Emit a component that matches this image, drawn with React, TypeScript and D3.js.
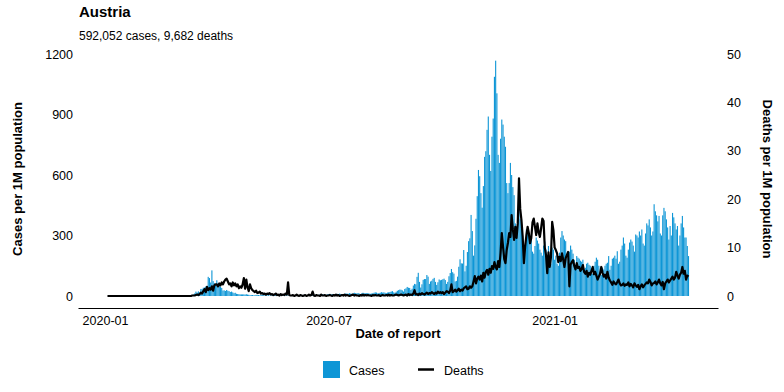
import * as d3 from 'd3';
import React, { useEffect, useRef } from 'react';

// daily cases per 1M population, one array per month (Jan 2020 starts on the 3rd)
const casesJan20 = [0, 0, 0, 0, 0, 0, 0, 0, 0, 0, 0, 0, 0, 0, 0, 0, 0, 0, 0, 0, 0, 0, 0, 0, 0, 0, 0, 0, 0];
const casesFeb20 = [0, 0, 0, 0, 0, 0, 0, 0, 0, 0, 0, 0, 0, 0, 0, 0, 0, 0, 0, 0, 0, 0, 0, 0, 0.2, 0.1, 0.2, 0.3, 0.1];
const casesMar20 = [0.2, 0.3, 0.4, 0.4, 0.7, 0.7, 1.3, 1.6, 2.8, 2.8, 3, 5.7, 7.1, 12.7, 22, 17, 23, 17, 35, 35, 41, 42, 47, 48, 95, 89, 67, 127, 74, 64, 57];
const casesApr20 = [78, 62, 55, 46, 40, 27, 28, 25, 30, 26, 24, 20, 22, 18, 14, 16, 11, 10, 9, 8, 8, 8, 8, 7, 9, 7, 6, 4, 5, 5];
const casesMay20 = [3, 4, 6, 4, 5, 3, 6, 6, 3, 3, 6, 3, 4, 2, 3, 4, 3, 3, 5, 3, 2, 3, 3, 4, 2, 3, 3, 3, 2, 3, 3];
const casesJun20 = [3, 3, 2, 4, 5, 3, 2, 3, 4, 5, 6, 5, 4, 4, 3, 3, 4, 4, 6, 6, 5, 5, 6, 7, 6, 8, 7, 5, 6, 8];
const casesJul20 = [9, 11, 7, 10, 8, 7, 9, 11, 10, 12, 10, 9, 8, 10, 13, 12, 11, 14, 12, 11, 13, 16, 14, 13, 15, 12, 10, 14, 16, 14, 13];
const casesAug20 = [14, 15, 12, 11, 12, 14, 16, 18, 17, 13, 15, 16, 19, 17, 18, 16, 14, 17, 19, 20, 22, 24, 18, 16, 21, 26, 29, 32, 31, 28, 22];
const casesSep20 = [35, 38, 45, 41, 40, 30, 36, 52, 60, 58, 95, 115, 70, 42, 58, 80, 84, 84, 104, 96, 60, 72, 76, 85, 90, 70, 55, 68, 82, 78];
const casesOct20 = [80, 83, 86, 79, 60, 70, 98, 114, 134, 118, 111, 72, 75, 96, 145, 182, 162, 161, 228, 122, 150, 218, 272, 286, 402, 322, 200, 251, 383, 495, 625];
const casesNov20 = [594, 510, 438, 545, 690, 718, 824, 890, 700, 620, 790, 880, 1087, 1167, 1005, 700, 660, 780, 875, 850, 790, 740, 560, 510, 560, 660, 600, 540, 500, 360];
const casesDec20 = [330, 430, 420, 380, 340, 300, 248, 240, 330, 320, 310, 297, 280, 220, 210, 248, 290, 275, 260, 230, 215, 200, 250, 270, 230, 150, 248, 190, 160, 240, 230];
const casesJan21 = [180, 200, 160, 150, 215, 290, 322, 300, 280, 272, 190, 170, 220, 250, 230, 210, 180, 150, 198, 190, 185, 175, 170, 180, 130, 140, 160, 165, 155, 150, 120];
const casesFeb21 = [110, 150, 170, 190, 180, 150, 120, 105, 140, 132, 150, 160, 165, 198, 130, 150, 185, 190, 200, 185, 222, 160, 170, 230, 250, 290, 260, 200];
const casesMar21 = [190, 230, 265, 280, 270, 250, 220, 305, 300, 290, 320, 300, 330, 260, 250, 310, 360, 350, 380, 340, 300, 320, 455, 420, 400, 370, 397, 310, 300, 400, 437];
const casesApr21 = [420, 380, 340, 280, 347, 300, 412, 390, 360, 330, 347, 250, 300, 360, 397, 340, 290, 290, 248, 198];

// daily deaths per 1M population
const deathsJan20 = [0, 0, 0, 0, 0, 0, 0, 0, 0, 0, 0, 0, 0, 0, 0, 0, 0, 0, 0, 0, 0, 0, 0, 0, 0, 0, 0, 0, 0];
const deathsFeb20 = [0, 0, 0, 0, 0, 0, 0, 0, 0, 0, 0, 0, 0, 0, 0, 0, 0, 0, 0, 0, 0, 0, 0, 0, 0, 0, 0, 0, 0];
const deathsMar20 = [0, 0, 0, 0, 0, 0, 0, 0, 0, 0, 0, 0.1, 0.1, 0.1, 0.2, 0.3, 0.2, 0.4, 0.7, 0.5, 1.0, 1.4, 0.8, 1.9, 1.2, 1.6, 1.3, 2.0, 1.1, 2.2, 2.4];
const deathsApr20 = [2.4, 2.0, 2.6, 2.2, 2.8, 2.4, 3.0, 3.4, 3.6, 3.0, 2.4, 2.6, 2.0, 2.8, 2.2, 2.6, 2.0, 2.4, 1.6, 2.0, 1.7, 2.4, 3.7, 1.5, 3.4, 1.8, 1.0, 2.4, 1.6, 1.2];
const deathsMay20 = [1.0, 0.8, 1.1, 0.6, 0.7, 0.9, 0.5, 0.6, 0.4, 0.5, 0.3, 0.5, 0.4, 0.6, 0.3, 0.4, 0.2, 0.3, 0.5, 0.2, 0.3, 0.1, 0.4, 0.2, 0.3, 0.2, 0.5, 0.3, 2.8, 0.2, 0.1];
const deathsJun20 = [0.1, 0.2, 0, 0.1, 0.3, 0.1, 0, 0.2, 0.1, 0, 0.1, 0.2, 0, 0.1, 0.3, 0.1, 0.2, 0.9, 0.1, 0, 0.2, 0.1, 0.1, 0, 0.3, 0.1, 0.1, 0.2, 0, 0.1];
const deathsJul20 = [0.1, 0.2, 0.1, 0, 0.2, 0.1, 0.3, 0.1, 0.2, 0, 0.1, 0.2, 0.1, 0.3, 0.1, 0.2, 0.1, 0, 0.1, 0.2, 0.3, 0.1, 0.2, 0.1, 0.1, 0, 0.2, 0.1, 0.3, 0.1, 0.2];
const deathsAug20 = [0.1, 0.2, 0.1, 0.1, 0, 0.2, 0.1, 0.2, 0.1, 0.1, 0.2, 0, 0.1, 0.2, 0.1, 0.1, 0.2, 0.1, 0.3, 0.1, 0.2, 0.1, 0.1, 0.2, 0.3, 0.2, 0.1, 0.2, 0.3, 0.2, 0.1];
const deathsSep20 = [0.2, 0.3, 0.1, 0.4, 0.2, 0.3, 0.2, 0.5, 1.2, 0.3, 0.4, 0.2, 0.5, 0.3, 0.6, 0.4, 0.3, 0.5, 0.7, 0.4, 0.6, 0.5, 0.8, 0.6, 0.4, 0.7, 0.5, 0.9, 0.6, 0.8];
const deathsOct20 = [0.6, 0.8, 0.4, 0.7, 1.0, 0.9, 0.6, 1.1, 2.4, 0.8, 1.0, 1.3, 0.9, 1.2, 1.5, 1.0, 1.3, 1.1, 1.6, 1.8, 2.0, 1.4, 1.5, 2.0, 1.7, 2.0, 3.0, 4.1, 2.6, 3.6, 4.0];
const deathsNov20 = [3.4, 4.2, 3.0, 4.8, 3.8, 5.0, 5.4, 4.4, 5.6, 4.8, 6.2, 5.6, 7.0, 6.0, 5.5, 7.2, 6.0, 8.9, 13.0, 10.2, 7.6, 6.8, 9.5, 11.0, 13.0, 12.2, 16.7, 13.8, 11.6, 14.3];
const deathsDec20 = [12.0, 15.0, 24.3, 18.0, 15.7, 12.2, 6.8, 10.2, 12.5, 14.3, 13.0, 10.9, 12.0, 15.2, 16.0, 14.3, 12.6, 15.0, 13.2, 12.2, 14.0, 16.0, 15.5, 10.0, 8.5, 4.7, 9.0, 6.0, 8.0, 15.3, 13.6];
const deathsJan21 = [10.0, 9.5, 8.8, 7.0, 8.1, 7.2, 8.8, 7.5, 6.0, 7.8, 8.5, 9.1, 2.0, 6.5, 7.0, 7.4, 6.2, 5.5, 6.8, 5.8, 6.0, 5.2, 5.6, 6.4, 5.0, 4.6, 5.2, 4.0, 4.8, 4.4, 5.2];
const deathsFeb21 = [6.0, 4.5, 5.0, 4.2, 3.4, 4.0, 4.6, 6.0, 4.8, 4.0, 4.4, 3.6, 5.0, 3.8, 3.2, 2.8, 2.3, 3.0, 2.6, 2.4, 2.9, 3.4, 2.6, 2.2, 2.3, 2.6, 2.1, 2.4];
const deathsMar21 = [2.3, 2.8, 2.0, 2.5, 2.2, 1.8, 2.6, 2.2, 1.9, 2.3, 1.4, 2.0, 2.4, 1.8, 2.2, 2.5, 2.8, 2.6, 3.4, 2.9, 2.2, 2.6, 2.7, 3.0, 2.4, 2.8, 3.4, 2.6, 2.2, 2.9, 1.4];
const deathsApr21 = [2.6, 3.0, 3.4, 2.8, 3.2, 3.6, 4.0, 3.4, 3.8, 5.0, 4.2, 3.6, 4.4, 4.8, 6.0, 4.6, 5.2, 3.4, 4.2, 4.0];

const monthStarts = [
  '2020-01-03', '2020-02-01', '2020-03-01', '2020-04-01', '2020-05-01', '2020-06-01',
  '2020-07-01', '2020-08-01', '2020-09-01', '2020-10-01', '2020-11-01', '2020-12-01',
  '2021-01-01', '2021-02-01', '2021-03-01', '2021-04-01',
];
const casesByMonth = [
  casesJan20, casesFeb20, casesMar20, casesApr20, casesMay20, casesJun20, casesJul20, casesAug20,
  casesSep20, casesOct20, casesNov20, casesDec20, casesJan21, casesFeb21, casesMar21, casesApr21,
];
const deathsByMonth = [
  deathsJan20, deathsFeb20, deathsMar20, deathsApr20, deathsMay20, deathsJun20, deathsJul20, deathsAug20,
  deathsSep20, deathsOct20, deathsNov20, deathsDec20, deathsJan21, deathsFeb21, deathsMar21, deathsApr21,
];

const caseTicks = [0, 300, 600, 900, 1200];
const deathTicks = [0, 10, 20, 30, 40, 50];
const dateTicks = ['2020-01-01', '2020-07-01', '2021-01-01'];

const FONT = '"Liberation Sans", Arial, Helvetica, sans-serif';
const BLUE = '#0e96d6';

export default function App() {
  const ref = useRef<SVGSVGElement>(null);

  useEffect(() => {
    drawChart();
  }, []);

  function drawChart() {
    const parse = d3.timeParse('%Y-%m-%d');
    const rows: any[] = [];
    monthStarts.forEach((m, k) => {
      const start = parse(m) as Date;
      casesByMonth[k].forEach((c, i) => {
        rows.push({ date: d3.timeDay.offset(start, i), cases: c, deaths: deathsByMonth[k][i] });
      });
    });

    const svg = d3.select(ref.current);
    svg.selectAll('*').remove();

    const left = 78;
    const right = 718;
    const axisY = 308;

    const x = d3
      .scaleTime()
      .domain([parse('2019-12-10') as Date, parse('2021-05-14') as Date])
      .range([left, right]);
    const y = d3.scaleLinear().domain([0, 1200]).range([296, 54]);
    const yR = d3.scaleLinear().domain([0, 50]).range([296, 54]);
    const dayW = x(parse('2020-01-02') as Date) - x(parse('2020-01-01') as Date);
    const barW = dayW * 0.9;

    // bars
    svg
      .append('g')
      .selectAll('rect')
      .data(rows)
      .join('rect')
      .attr('x', (d: any) => x(d.date) - barW / 2)
      .attr('y', (d: any) => y(d.cases))
      .attr('width', barW)
      .attr('height', (d: any) => y(0) - y(d.cases))
      .attr('fill', BLUE);

    // deaths line
    const line = d3
      .line<any>()
      .x((d) => x(d.date))
      .y((d) => yR(d.deaths));
    svg
      .append('path')
      .datum(rows)
      .attr('fill', 'none')
      .attr('stroke', 'black')
      .attr('stroke-width', 2.2)
      .attr('stroke-linejoin', 'round')
      .attr('d', line);

    // x axis
    const xAxis = svg
      .append('g')
      .attr('transform', `translate(0,${axisY})`)
      .call(
        d3
          .axisBottom(x)
          .tickValues(dateTicks.map((t) => parse(t) as Date))
          .tickFormat(d3.timeFormat('%Y-%m') as any)
          .tickSize(0)
          .tickSizeOuter(0)
          .tickPadding(8),
      );
    xAxis.select('.domain').attr('stroke', 'black').attr('stroke-width', 1.1);
    xAxis.selectAll('text').attr('font-size', 12.5).attr('font-family', FONT).attr('fill', 'black');

    // left axis
    const yAxis = svg
      .append('g')
      .attr('transform', `translate(${left},0)`)
      .call(d3.axisLeft(y).tickValues(caseTicks).tickFormat(d3.format('d')).tickSize(0).tickPadding(5));
    yAxis.select('.domain').remove();
    yAxis.selectAll('text').attr('font-size', 12.5).attr('font-family', FONT).attr('fill', 'black');

    // right axis
    const yAxisR = svg
      .append('g')
      .attr('transform', `translate(${right},0)`)
      .call(d3.axisRight(yR).tickValues(deathTicks).tickFormat(d3.format('d')).tickSize(0).tickPadding(9));
    yAxisR.select('.domain').remove();
    yAxisR.selectAll('text').attr('font-size', 12.5).attr('font-family', FONT).attr('fill', 'black');

    // titles
    svg
      .append('text')
      .attr('x', 79)
      .attr('y', 17)
      .attr('font-family', FONT)
      .attr('font-size', 15)
      .attr('font-weight', 'bold')
      .text('Austria');
    svg
      .append('text')
      .attr('x', 79)
      .attr('y', 40)
      .attr('font-family', FONT)
      .attr('font-size', 12)
      .text('592,052 cases, 9,682 deaths');

    svg
      .append('text')
      .attr('x', (left + right) / 2)
      .attr('y', 338)
      .attr('text-anchor', 'middle')
      .attr('font-family', FONT)
      .attr('font-size', 13)
      .attr('font-weight', 'bold')
      .text('Date of report');
    svg
      .append('text')
      .attr('transform', 'translate(22,179) rotate(-90)')
      .attr('text-anchor', 'middle')
      .attr('font-family', FONT)
      .attr('font-size', 13)
      .attr('font-weight', 'bold')
      .text('Cases per 1M population');
    svg
      .append('text')
      .attr('transform', 'translate(763,179) rotate(90)')
      .attr('text-anchor', 'middle')
      .attr('font-family', FONT)
      .attr('font-size', 13)
      .attr('font-weight', 'bold')
      .text('Deaths per 1M population');

    // legend
    const lg = svg.append('g').attr('font-family', FONT).attr('font-size', 12.5);
    lg.append('rect').attr('x', 323).attr('y', 361).attr('width', 17).attr('height', 17).attr('fill', BLUE);
    lg.append('text').attr('x', 349).attr('y', 374.5).text('Cases');
    lg.append('line')
      .attr('x1', 418)
      .attr('x2', 434)
      .attr('y1', 369.5)
      .attr('y2', 369.5)
      .attr('stroke', 'black')
      .attr('stroke-width', 2.5);
    lg.append('text').attr('x', 444).attr('y', 374.5).text('Deaths');
  }

  return (
    <svg
      ref={ref}
      width={784}
      height={392}
      style={{ position: 'absolute', left: 0, top: 0, background: 'white' }}
    />
  );
}
